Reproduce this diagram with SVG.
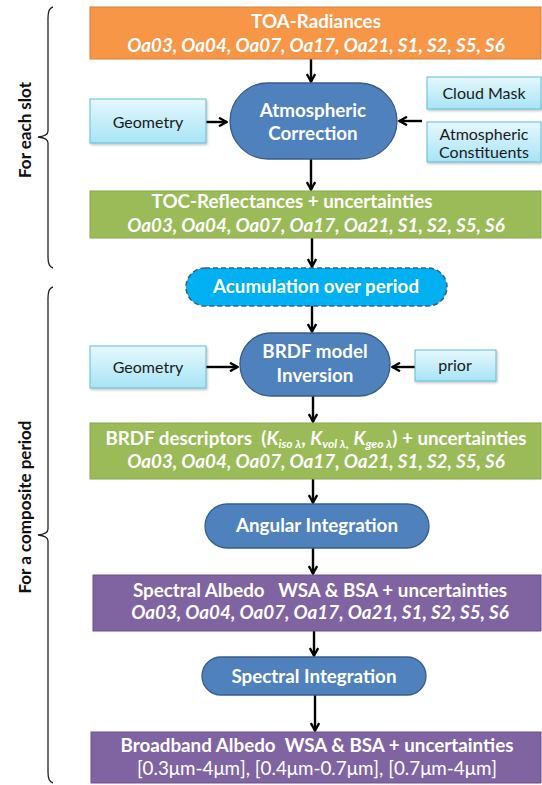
<svg xmlns="http://www.w3.org/2000/svg" width="542" height="785" viewBox="0 0 542 785">
  <defs>
    <linearGradient id="lightFill" x1="0" y1="0" x2="0" y2="1">
      <stop offset="0" stop-color="#e6f8fd"/>
      <stop offset="1" stop-color="#a7e4f6"/>
    </linearGradient>
    <filter id="shadow" x="-10%" y="-10%" width="130%" height="140%">
      <feDropShadow dx="1" dy="1.5" stdDeviation="1" flood-color="#000" flood-opacity="0.25"/>
    </filter>
    <marker id="ah" viewBox="0 0 12 10" refX="11" refY="5" markerWidth="12" markerHeight="10" orient="auto" markerUnits="userSpaceOnUse">
      <path d="M3,0.8 L10.5,5 L3,9.2" fill="none" stroke="#000" stroke-width="2.4"/>
    </marker>
  </defs>
  <style>
    text { font-family: Lato, "Open Sans", "Liberation Sans", sans-serif; white-space: pre; }
    .w { fill: #fff; font-weight: bold; font-size: 18.8px; text-anchor: middle; }
    .wi { fill: #fff; font-weight: bold; font-style: italic; font-size: 18.8px; text-anchor: middle; }
    .wr { fill: #fff; font-size: 18.8px; text-anchor: middle; }
    .d { fill: #1a1a1a; font-size: 16px; text-anchor: middle; }
    .side { fill: #111; font-weight: bold; font-size: 17px; text-anchor: middle; }
    .orange { fill: #f79646; stroke: #d9803e; stroke-width: 1; }
    .green { fill: #9bbb59; stroke: #89a64c; stroke-width: 1; }
    .purple { fill: #8064a2; stroke: #6a528a; stroke-width: 1; }
    .proc { fill: #4f81bd; stroke: #385d8a; stroke-width: 1.3; }
    .light { fill: url(#lightFill); stroke: #63bcd6; stroke-width: 1; filter: url(#shadow); }
    .acc { fill: #00b0f0; stroke: #385d8a; stroke-width: 1.5; stroke-dasharray: 5 3; }
    .conn path { fill: none; stroke: #000; stroke-width: 2.4; marker-end: url(#ah); }
    .brace { fill: none; stroke: #222; stroke-width: 1.3; }
  </style>

  <!-- grouping braces with their labels -->
  <g id="brace-slot">
    <path class="brace" d="M53,7 Q48,8 48,18 L48,131 Q48,136 38,137 Q48,138 48,143 L48,257 Q48,267 53,268"/>
    <text class="side" transform="translate(31,130) rotate(-90)">For each slot</text>
  </g>
  <g id="brace-period">
    <path class="brace" d="M53,287 Q48,288 48,298 L48,529 Q48,534 38,535 Q48,536 48,541 L48,772 Q48,782 53,783"/>
    <text class="side" transform="translate(31,507) rotate(-90)">For a composite period</text>
  </g>

  <!-- connectors -->
  <g id="connectors" class="conn">
    <path d="M311,59 L311,82"/>
    <path d="M206,122 L227,122"/>
    <path d="M422,121 L399,121"/>
    <path d="M311,159 L311,190"/>
    <path d="M312,238 L312,267"/>
    <path d="M312,306 L312,332"/>
    <path d="M206,367 L238,367"/>
    <path d="M415,367 L392,367"/>
    <path d="M313,396 L313,422"/>
    <path d="M313,479 L313,503"/>
    <path d="M313,548 L313,574"/>
    <path d="M314,631 L314,656"/>
    <path d="M315,695 L315,731"/>
  </g>

  <g id="toa-radiances">
    <rect class="orange" x="90" y="7" width="451" height="52"/>
    <text class="w" x="316" y="28">TOA-Radiances</text>
    <text class="wi" x="316" y="52">Oa03, Oa04, Oa07, Oa17, Oa21, S1, S2, S5, S6</text>
  </g>

  <g id="atmospheric-correction">
    <rect class="proc" x="230" y="83" width="167" height="76" rx="38"/>
    <text class="w" x="313" y="117">Atmospheric</text>
    <text class="w" x="313" y="140">Correction</text>
  </g>

  <g id="geometry-1">
    <rect class="light" x="90" y="99" width="116" height="44"/>
    <text class="d" x="148" y="128">Geometry</text>
  </g>

  <g id="cloud-mask">
    <rect class="light" x="427" y="77" width="114" height="32"/>
    <text class="d" x="484" y="99">Cloud Mask</text>
  </g>

  <g id="atmospheric-constituents">
    <rect class="light" x="427" y="122" width="114" height="40"/>
    <text class="d" x="484" y="140">Atmospheric</text>
    <text class="d" x="484" y="158">Constituents</text>
  </g>

  <g id="toc-reflectances">
    <rect class="green" x="90" y="191" width="451" height="47"/>
    <text class="w" x="292" y="208">TOC-Reflectances + uncertainties</text>
    <text class="wi" x="316" y="232">Oa03, Oa04, Oa07, Oa17, Oa21, S1, S2, S5, S6</text>
  </g>

  <g id="accumulation">
    <rect class="acc" x="186" y="268" width="261" height="38" rx="19"/>
    <text class="w" x="316" y="293">Acumulation over period</text>
  </g>

  <g id="brdf-inversion">
    <rect class="proc" x="240" y="333" width="150" height="63" rx="31"/>
    <text class="w" x="315" y="358">BRDF model</text>
    <text class="w" x="315" y="382">Inversion</text>
  </g>

  <g id="geometry-2">
    <rect class="light" x="90" y="346" width="116" height="42"/>
    <text class="d" x="148" y="373">Geometry</text>
  </g>

  <g id="prior">
    <rect class="light" x="415" y="350" width="81" height="31"/>
    <text class="d" x="455" y="371">prior</text>
  </g>

  <g id="brdf-descriptors">
    <rect class="green" x="90" y="423" width="451" height="56"/>
    <text class="w" x="316" y="445">BRDF descriptors  (<tspan font-style="italic">K</tspan><tspan font-style="italic" font-size="12" dy="3">iso λ</tspan><tspan dy="-3">, </tspan><tspan font-style="italic">K</tspan><tspan font-style="italic" font-size="12" dy="3">vol λ,</tspan><tspan dy="-3"> </tspan><tspan font-style="italic">K</tspan><tspan font-style="italic" font-size="12" dy="3">geo λ</tspan><tspan dy="-3">) + uncertainties</tspan></text>
    <text class="wi" x="316" y="468">Oa03, Oa04, Oa07, Oa17, Oa21, S1, S2, S5, S6</text>
  </g>

  <g id="angular-integration">
    <rect class="proc" x="205" y="504" width="224" height="44" rx="22"/>
    <text class="w" x="317" y="532">Angular Integration</text>
  </g>

  <g id="spectral-albedo">
    <rect class="purple" x="93" y="575" width="448" height="56"/>
    <text class="w" x="320" y="597">Spectral Albedo   WSA &amp; BSA + uncertainties</text>
    <text class="wi" x="320" y="619">Oa03, Oa04, Oa07, Oa17, Oa21, S1, S2, S5, S6</text>
  </g>

  <g id="spectral-integration">
    <rect class="proc" x="202" y="657" width="224" height="38" rx="19"/>
    <text class="w" x="314" y="683">Spectral Integration</text>
  </g>

  <g id="broadband-albedo">
    <rect class="purple" x="91" y="732" width="450" height="51"/>
    <text class="w" x="317" y="752">Broadband Albedo  WSA &amp; BSA + uncertainties</text>
    <text class="wr" x="317" y="775">[0.3μm-4μm], [0.4μm-0.7μm], [0.7μm-4μm]</text>
  </g>
</svg>
